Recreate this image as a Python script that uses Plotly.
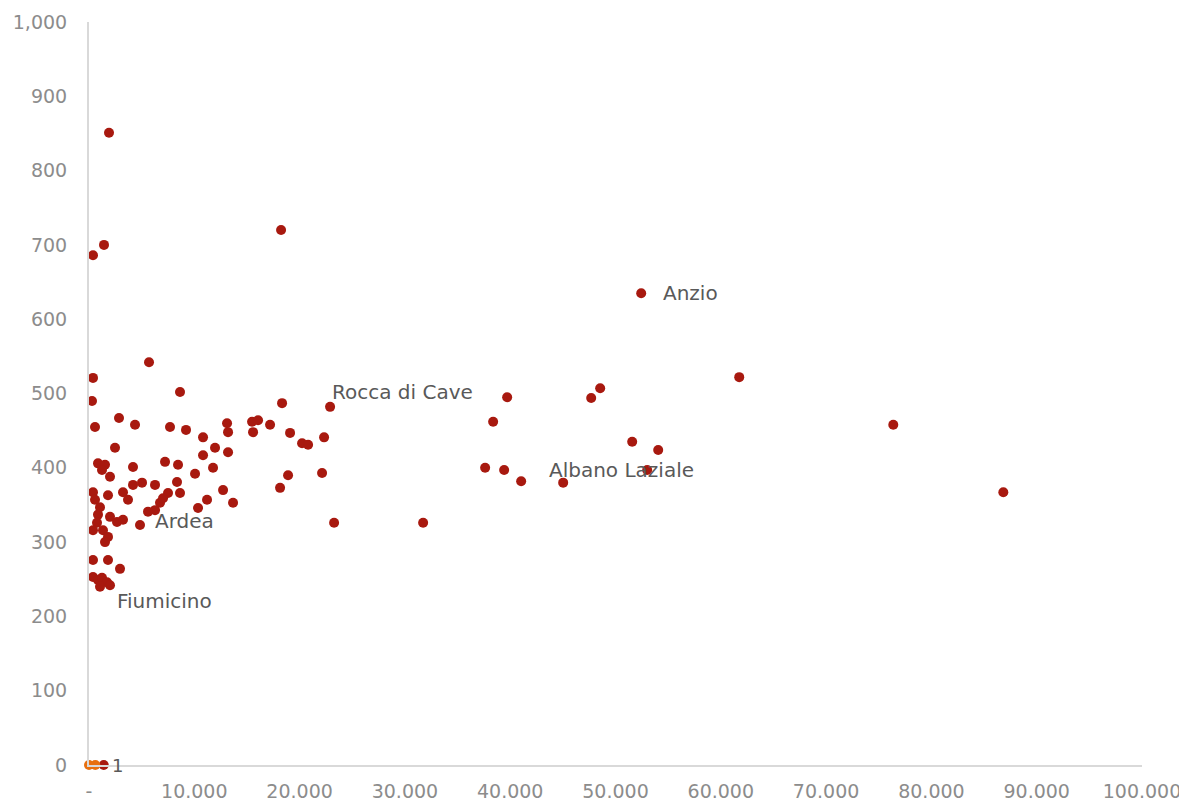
import plotly.graph_objects as go

# Lazio municipalities: population (x) vs value per inhabitant (y)
pop = [1900, 380, 1425, 18240, 52440, 380, 285, 5700, 8645, 2850,
       4370, 570, 7695, 9215, 10830, 13110, 13205, 15485, 16055, 17195,
       15580, 18335, 2470, 11970, 10830, 13205, 855, 1520, 1235, 1995,
       4180, 7220, 8455, 10070, 11780, 18145, 12730, 13680, 11210, 10355,
       8360, 8645, 7505, 6270, 5035, 4180, 3230, 3705, 1805, 380,
       570, 1045, 6745, 6270, 5605, 7030, 855, 1995, 2660, 3230,
       4845, 760, 1330, 1805, 1520, 380, 380, 1805, 2945, 380,
       855, 1235, 1710, 1995, 1045, 22895, 19095, 20235, 20805, 22325,
       18905, 22135, 23275, 31730, 38380, 37620, 39425, 41040, 45030, 39710,
       48545, 47690, 51585, 54055, 53010, 61750, 76380, 86830, 1400]
val = [851, 686, 700, 720, 635, 521, 490, 542, 502, 467,
       458, 455, 455, 451, 441, 460, 448, 462, 464, 458,
       448, 487, 427, 427, 417, 421, 406, 404, 397, 388,
       401, 408, 404, 392, 400, 373, 370, 353, 357, 346,
       381, 366, 366, 377, 380, 377, 367, 357, 363, 367,
       357, 347, 353, 343, 341, 359, 337, 334, 327, 330,
       323, 326, 316, 307, 300, 316, 276, 276, 264, 253,
       249, 252, 246, 242, 240, 482, 447, 433, 431, 441,
       390, 393, 326, 326, 462, 400, 397, 382, 380, 495,
       507, 494, 435, 424, 397, 522, 458, 367, 0]

# second series sitting at the origin
zero_pop = [0, 600]
zero_val = [0, 0]

# labelled points: name, population, value, x shift, y shift
label_names = ["Anzio", "Rocca di Cave", "Albano Laziale", "Ardea", "Fiumicino"]
label_pop = [52440, 22895, 53010, 4845, 1995]
label_val = [635, 482, 397, 323, 242]
label_dx = [20, 0, -100, 13, 5]
label_dy = [0, 15, 0, 4, -16]

x_ticks = [0, 10000, 20000, 30000, 40000, 50000, 60000, 70000, 80000, 90000, 100000]
x_text = ["-", "10.000", "20.000", "30.000", "40.000", "50.000", "60.000",
          "70.000", "80.000", "90.000", "100.000"]
y_ticks = [0, 100, 200, 300, 400, 500, 600, 700, 800, 900, 1000]
y_text = ["0", "100", "200", "300", "400", "500", "600", "700", "800", "900", "1,000"]

RED = "#a8190f"
ORANGE = "#e8700f"

fig = go.Figure()
fig.add_trace(go.Scatter(x=pop, y=val, mode="markers",
                         marker=dict(color=RED, size=10), cliponaxis=False))
fig.add_trace(go.Scatter(x=zero_pop, y=zero_val, mode="markers",
                         marker=dict(color=ORANGE, size=10), cliponaxis=False))

for name, xv, yv, dx, dy in zip(label_names, label_pop, label_val, label_dx, label_dy):
    fig.add_annotation(x=xv, y=yv, text=name, showarrow=False,
                       xanchor="left", yanchor="middle", xshift=dx, yshift=dy,
                       font=dict(family="DejaVu Sans", size=20, color="#595959"))

# small "1" data label next to the origin points
fig.add_annotation(x=1400, y=0, text="1", showarrow=False, xanchor="left",
                   yanchor="middle", xshift=6,
                   font=dict(family="DejaVu Sans", size=18, color="#595959"))

axis_font = dict(family="DejaVu Sans", size=19, color="#8c8c8c")
fig.update_xaxes(range=[0, 100000], tickvals=x_ticks, ticktext=x_text,
                 showgrid=False, zeroline=False, showline=True,
                 linecolor="#d9d9d9", linewidth=2, ticks="", automargin=False,
                 ticklabelstandoff=8, tickfont=axis_font)
fig.update_yaxes(range=[0, 1000], tickvals=y_ticks, ticktext=y_text,
                 showgrid=False, zeroline=False, showline=True,
                 linecolor="#d9d9d9", linewidth=2, ticks="", automargin=False,
                 ticklabelstandoff=16, tickfont=axis_font)
# page body adds an 8px offset, so the figure is a bit smaller than the window
fig.update_layout(width=1179, height=795, showlegend=False,
                  plot_bgcolor="white", paper_bgcolor="white",
                  margin=dict(l=81, r=45, t=14, b=38))

fig.write_html("out.html")
